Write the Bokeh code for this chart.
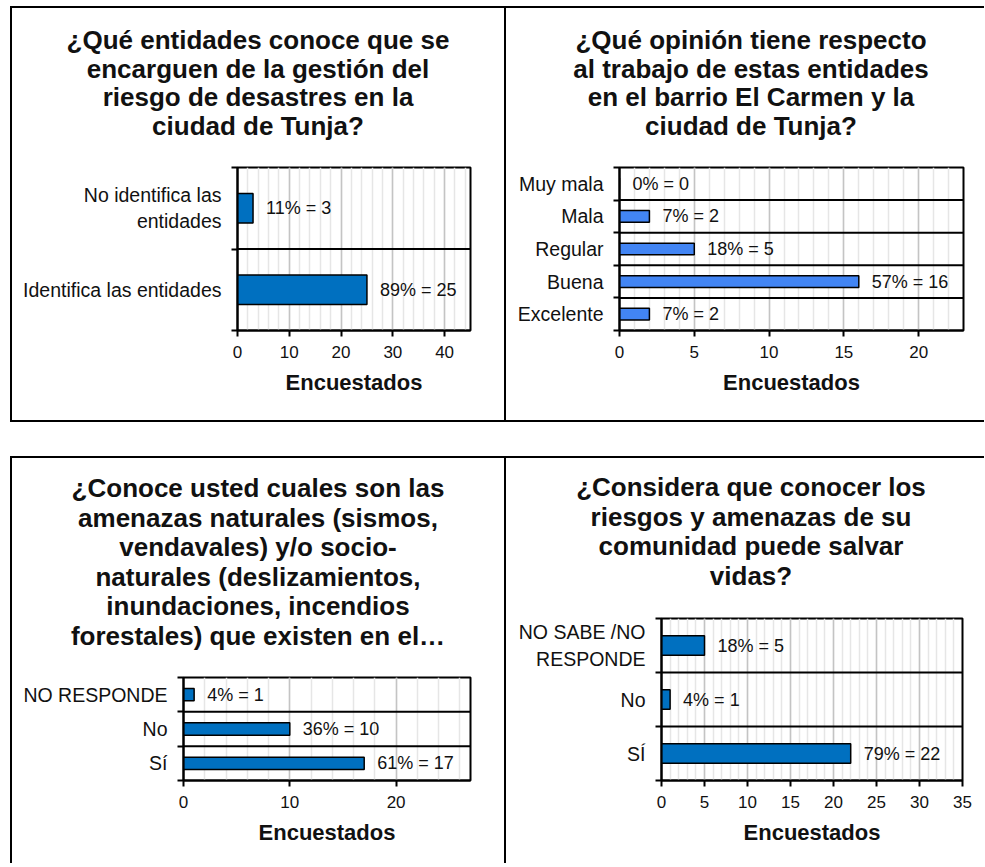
from bokeh.plotting import figure
from bokeh.models import (ColumnDataSource, Range1d, LinearAxis, Div,
                          FixedTicker, SingleIntervalTicker, Span)
from bokeh.layouts import row, column
from bokeh.embed import file_html
from bokeh.resources import INLINE
from bokeh.core.properties import value

# ---------------- data (categories listed top to bottom as in the chart) ----------------
q1_title = ["¿Qué entidades conoce que se", "encarguen de la gestión del",
            "riesgo de desastres en la", "ciudad de Tunja?"]
q1_categories = ["No identifica las\nentidades", "Identifica las entidades"]
q1_counts = [3, 25]
q1_percents = [11, 89]
q1_x_max = 45
q1_major = 10

q2_title = ["¿Qué opinión tiene respecto", "al trabajo de estas entidades",
            "en el barrio El Carmen y la", "ciudad de Tunja?"]
q2_categories = ["Muy mala", "Mala", "Regular", "Buena", "Excelente"]
q2_counts = [0, 2, 5, 16, 2]
q2_percents = [0, 7, 18, 57, 7]
q2_x_max = 23
q2_major = 5

q3_title = ["¿Conoce usted cuales son las", "amenazas naturales (sismos,",
            "vendavales) y/o socio-", "naturales (deslizamientos,",
            "inundaciones, incendios", "forestales) que existen en el…"]
q3_categories = ["NO RESPONDE", "No", "Sí"]
q3_counts = [1, 10, 17]
q3_percents = [4, 36, 61]
q3_x_max = 27
q3_major = 10

q4_title = ["¿Considera que conocer los", "riesgos y amenazas de su",
            "comunidad puede salvar", "vidas?"]
q4_categories = ["NO SABE /NO\nRESPONDE", "No", "SÍ"]
q4_counts = [5, 1, 22]
q4_percents = [18, 4, 79]
q4_x_max = 35
q4_major = 5

x_axis_title = "Encuestados"

# ---------------- styling ----------------
FONT = "Liberation Sans"
TEXT = "#111111"
DARK_BLUE = "#0070C0"
LIGHT_BLUE = "#4285F4"


def build(title_lines, cats, counts, pcts, x_max, major, n_minor, bar_color,
          width, title_h, title_pad, title_lh, title_shift, plot_h, frame_lrtb, shadow):
    fl, fr, ft, fbm = frame_lrtb  # borders around the plot frame inside the figure
    n = len(cats)
    slot_pos = [n - k - 0.5 for k in range(n)]   # slot k (0 = top) centre
    bounds = list(range(n + 1))
    src = ColumnDataSource(dict(
        pos=slot_pos, count=counts, cat=cats,
        label=[f"{pc}% = {c}" for pc, c in zip(pcts, counts)]))

    html = ('<div style="box-sizing:border-box; width:%dpx; padding:%spx 0 0 %dpx; '
            'text-align:center; font-family:\'Liberation Sans\', Arial, sans-serif; '
            'font-weight:bold; font-size:26px; line-height:%spx; color:%s; white-space:nowrap;">'
            % (width, title_pad, title_shift, title_lh, TEXT)) + "<br>".join(title_lines) + "</div>"
    head = Div(text=html, width=width, height=title_h, margin=0)

    p = figure(width=width, height=plot_h, x_range=Range1d(0, x_max), y_range=Range1d(0, n),
               output_backend="svg", toolbar_location=None, y_axis_location=None,
               min_border_left=fl, min_border_right=fr,
               min_border_top=ft, min_border_bottom=fbm, margin=0)
    p.background_fill_color = "white"
    p.border_fill_color = "white"
    p.outline_line_color = "black"
    p.outline_line_width = 2

    # x axis
    xa = p.xaxis[0]
    xa.ticker = SingleIntervalTicker(interval=major, num_minor_ticks=n_minor)
    xa.axis_line_width = 2
    xa.axis_line_color = "black"
    xa.major_tick_in = 0
    xa.major_tick_out = 6
    xa.major_tick_line_width = 2
    xa.minor_tick_line_color = None
    xa.major_label_text_font = FONT
    xa.major_label_text_font_size = "17px"
    xa.major_label_text_color = TEXT
    xa.major_label_standoff = 9
    xa.axis_label = x_axis_title
    xa.axis_label_text_font = FONT
    xa.axis_label_text_font_style = "bold"
    xa.axis_label_text_font_size = "22px"
    xa.axis_label_text_color = TEXT
    xa.axis_label_standoff = 9

    p.xgrid.grid_line_color = "#C4C4C4"
    p.xgrid.grid_line_width = 1.5
    p.xgrid.minor_grid_line_color = "#E6E6E6"
    p.xgrid.minor_grid_line_width = 1.5
    p.ygrid.grid_line_color = None

    # y axis: labels at category centres, tick marks between categories
    ya = LinearAxis(ticker=FixedTicker(ticks=slot_pos, minor_ticks=bounds),
                    major_label_overrides={pos: c for pos, c in zip(slot_pos, cats)},
                    major_tick_line_color=None, major_tick_in=0, major_tick_out=0,
                    minor_tick_in=0, minor_tick_out=6, minor_tick_line_width=2,
                    minor_tick_line_color="black",
                    axis_line_color="black", axis_line_width=2, major_label_standoff=10,
                    major_label_text_font=FONT, major_label_text_font_size="19.5px",
                    major_label_text_color=TEXT)
    p.add_layout(ya, "left")

    for i in range(1, n):
        p.add_layout(Span(location=i, dimension="width",
                          line_color="black", line_width=2))

    p.hbar(y="pos", left=0, right="count", height=0.36, source=src,
           fill_color=bar_color, line_color="black", line_width=1.5)
    p.text(x="count", y="pos", text="label", source=src, x_offset=13,
           text_align="left", text_baseline="middle", text_font=value(FONT),
           text_font_size="18px", text_color=TEXT)

    return column(head, p, spacing=0, margin=0, styles={"box-shadow": shadow})


SH_TL = "0 0 0 2px #000"
SH_TR = "0 -2px 0 0 #000, 0 2px 0 0 #000"
SH_BL = "0 -2px 0 0 #000, -2px 0 0 0 #000, 2px 0 0 0 #000, -2px -2px 0 0 #000, 2px -2px 0 0 #000"
SH_BR = "0 -2px 0 0 #000"

# panel TL: page (12,8) 492x412 ; TR: (506,8) 478x412 ; BL: (12,458) 492x405 ; BR: (506,458) 478x405
c1 = build(q1_title, q1_categories, q1_counts, q1_percents, q1_x_max, q1_major, 5, DARK_BLUE,
           492, 140, 18, 28.5, 0, 272, (225, 34, 19, 90), SH_TL)
c2 = build(q2_title, q2_categories, q2_counts, q2_percents, q2_x_max, q2_major, 5, LIGHT_BLUE,
           478, 140, 18, 28.5, 12, 272, (113, 21, 19, 90), SH_TR)
c3 = build(q3_title, q3_categories, q3_counts, q3_percents, q3_x_max, q3_major, 5, DARK_BLUE,
           492, 200, 16, 29.5, 0, 205, (171, 34, 19, 83), SH_BL)
c4 = build(q4_title, q4_categories, q4_counts, q4_percents, q4_x_max, q4_major, 5, DARK_BLUE,
           478, 150, 15, 29.5, 12, 255, (155, 22, 10, 83), SH_BR)

top = row(c1, c2, spacing=2)
bottom = row(c3, c4, spacing=2)
root = column(top, bottom, spacing=38)
root.margin = (8, 0, 0, 12)

open("out.html", "w").write(file_html(root, INLINE))
